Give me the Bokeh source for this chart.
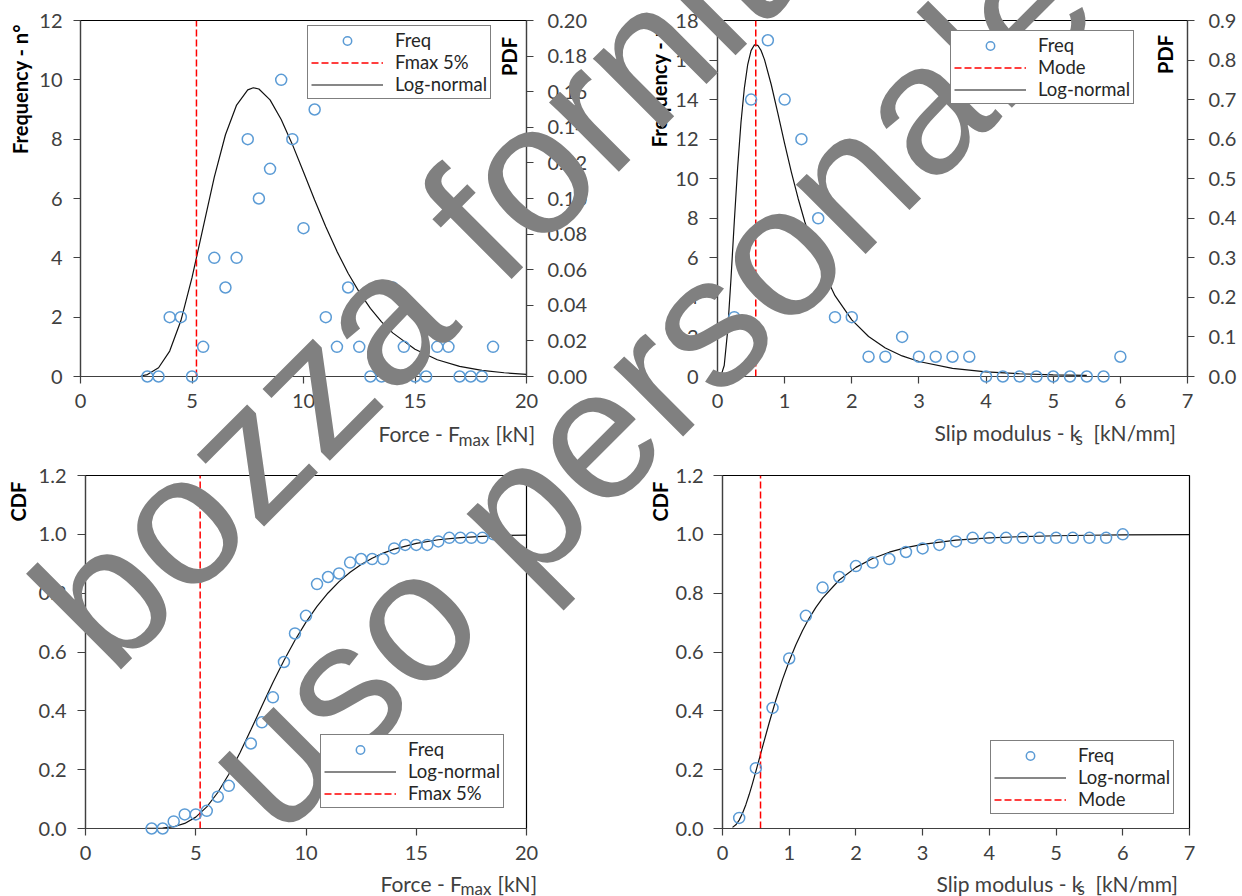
from math import pi, sin, cos
from bokeh.plotting import figure
from bokeh.models import (Range1d, LinearAxis, Legend, LegendItem,
                          FixedTicker, PrintfTickFormatter)
from bokeh.core.properties import value
from bokeh.layouts import row, column
from bokeh.embed import file_html
from bokeh.resources import INLINE

# ---------------- data ----------------
# Force Fmax [kN]: class centres, observed frequency, empirical CDF
fmax_bins = [3.0, 3.5, 4.0, 4.5, 5.0, 5.5, 6.0, 6.5, 7.0, 7.5, 8.0, 8.5, 9.0, 9.5,
             10.0, 10.5, 11.0, 11.5, 12.0, 12.5, 13.0, 13.5, 14.0, 14.5, 15.0,
             15.5, 16.0, 16.5, 17.0, 17.5, 18.0, 18.5]
fmax_freq = [0, 0, 2, 2, 0, 1, 4, 3, 4, 8, 6, 7, 10, 8, 5, 9, 2, 1, 3, 1, 0, 0,
             3, 1, 0, 0, 1, 1, 0, 0, 0, 1]
fmax_cdf = [0.0, 0.0, 0.024, 0.048, 0.048, 0.060, 0.108, 0.145, 0.193, 0.289,
            0.361, 0.446, 0.566, 0.663, 0.723, 0.831, 0.855, 0.867, 0.904, 0.916,
            0.916, 0.916, 0.952, 0.964, 0.964, 0.964, 0.976, 0.988, 0.988, 0.988,
            0.988, 1.0]
# log-normal fit
fmax_fit_x = [2.7, 3.0, 3.5, 4.0, 4.5, 5.0, 5.5, 6.0, 6.5, 7.0, 7.5, 7.75, 8.0,
              8.5, 9.0, 9.5, 10.0, 10.5, 11.0, 11.5, 12.0, 12.5, 13.0, 13.5,
              14.0, 15.0, 16.0, 17.0, 18.0, 19.0, 20.0]
fmax_fit_pdf = [0.0003, 0.0011, 0.0049, 0.0143, 0.0313, 0.0555, 0.0838, 0.1120,
                0.1358, 0.1525, 0.1610, 0.1622, 0.1615, 0.1554, 0.1444, 0.1304,
                0.1149, 0.0992, 0.0841, 0.0703, 0.0580, 0.0474, 0.0383, 0.0307,
                0.0245, 0.0153, 0.0094, 0.0057, 0.0034, 0.0021, 0.0012]
fmax_fit_cdf = [0.0001, 0.0003, 0.0016, 0.0061, 0.0172, 0.0386, 0.0734, 0.1224,
                0.1846, 0.2569, 0.3357, 0.3760, 0.4166, 0.4962, 0.5712, 0.6401,
                0.7014, 0.7549, 0.8007, 0.8392, 0.8712, 0.8974, 0.9188, 0.9360,
                0.9498, 0.9693, 0.9815, 0.9888, 0.9933, 0.9960, 0.9976]
fmax_5pct = 5.2

# Slip modulus ks [kN/mm]
ks_bins = [0.25, 0.5, 0.75, 1.0, 1.25, 1.5, 1.75, 2.0, 2.25, 2.5, 2.75, 3.0,
           3.25, 3.5, 3.75, 4.0, 4.25, 4.5, 4.75, 5.0, 5.25, 5.5, 5.75, 6.0]
ks_freq = [3, 14, 17, 14, 12, 8, 3, 3, 1, 1, 2, 1, 1, 1, 1, 0, 0, 0, 0, 0, 0, 0, 0, 1]
ks_cdf = [0.036, 0.205, 0.410, 0.578, 0.723, 0.819, 0.855, 0.892, 0.904, 0.916,
          0.940, 0.952, 0.964, 0.976, 0.988, 0.988, 0.988, 0.988, 0.988, 0.988,
          0.988, 0.988, 0.988, 1.0]
ks_pdf_x = [0.03, 0.05, 0.1, 0.15, 0.2, 0.25, 0.3, 0.35, 0.4, 0.45, 0.5, 0.55, 0.6,
            0.65, 0.7, 0.8, 0.9, 1.0, 1.1, 1.2, 1.3, 1.4, 1.5, 1.75, 2.0, 2.25,
            2.5, 2.75, 3.0, 3.5, 4.0, 4.5, 5.0, 5.5]
ks_fit_pdf = [0.0, 0.0011, 0.0279, 0.1133, 0.2447, 0.3914, 0.5283, 0.6427, 0.7292,
              0.7887, 0.8238, 0.8386, 0.8373, 0.8237, 0.8010, 0.7382, 0.6645,
              0.5889, 0.5169, 0.4507, 0.3913, 0.3391, 0.2933, 0.2043, 0.1430,
              0.1010, 0.0721, 0.0520, 0.0379, 0.0207, 0.0118, 0.0069, 0.0042, 0.0026]
ks_cdf_x = [0.15, 0.2, 0.25, 0.3, 0.35, 0.4, 0.45, 0.5, 0.6, 0.7, 0.8, 0.9, 1.0,
            1.1, 1.2, 1.3, 1.4, 1.5, 1.75, 2.0, 2.25, 2.5, 2.75, 3.0, 3.5, 4.0,
            4.5, 5.0, 5.5, 6.0, 7.0]
ks_fit_cdf = [0.0038, 0.0126, 0.0285, 0.0516, 0.0810, 0.1154, 0.1535, 0.1939,
              0.2775, 0.3596, 0.4368, 0.5069, 0.5696, 0.6249, 0.6732, 0.7153,
              0.7517, 0.7834, 0.8448, 0.8877, 0.9179, 0.9393, 0.9547, 0.9658,
              0.9800, 0.9879, 0.9925, 0.9952, 0.9968, 0.9979, 0.9990]
ks_mode = 0.57

# tick labels
fmax_xticks = [0, 5, 10, 15, 20]
ks_xticks = [0, 1, 2, 3, 4, 5, 6, 7]
fmax_freq_ticks = [0, 2, 4, 6, 8, 10, 12]
ks_freq_ticks = [0, 2, 4, 6, 8, 10, 12, 14, 16, 18]
fmax_pdf_ticks = [0.00, 0.02, 0.04, 0.06, 0.08, 0.10, 0.12, 0.14, 0.16, 0.18, 0.20]
ks_pdf_ticks = [0.0, 0.1, 0.2, 0.3, 0.4, 0.5, 0.6, 0.7, 0.8, 0.9]
cdf_ticks = [0.0, 0.2, 0.4, 0.6, 0.8, 1.0, 1.2]

# ---------------- styling ----------------
W, H = 621, 448
FONT = "Lato"
WM_FONT = "Liberation Sans"
GREY = "#404040"
BLUE = "#5B9BD5"
RED = "#FF0000"
WM_COLOR = "#808080"
# bokeh draws 'alphabetic' text glyphs this many em below their anchor
BASELINE_FIX = {FONT: 0.4, WM_FONT: 0.3125}


class Panel:
    def __init__(self, origin, borders, xr, yr):
        l, r, t, b = borders
        self.p = figure(width=W, height=H, x_range=Range1d(*xr), y_range=Range1d(*yr),
                        output_backend="svg", toolbar_location=None,
                        min_border_left=l, min_border_right=r,
                        min_border_top=t, min_border_bottom=b)
        p = self.p
        p.xgrid.visible = False
        p.ygrid.visible = False
        p.outline_line_color = "#000000"
        p.outline_line_width = 1.2
        p.background_fill_color = "white"
        p.border_fill_color = "white"
        self.fl = origin[0] + l            # frame left (window px)
        self.fb = origin[1] + H - b        # frame bottom (window px)
        self.fw = W - l - r
        self.fh = H - t - b
        self.xr = xr
        self.yr = yr

    def to_data(self, X, Y):
        x0, x1 = self.xr
        y0, y1 = self.yr
        return (x0 + (X - self.fl) / self.fw * (x1 - x0),
                y0 + (self.fb - Y) / self.fh * (y1 - y0))

    def text(self, X, Y, t, size, color=GREY, font=FONT, style="normal",
             angle=0.0, align="left"):
        px = float(size.replace("px", ""))
        d = BASELINE_FIX[font] * px
        X -= d * sin(angle)
        Y -= d * cos(angle)
        xd, yd = self.to_data(X, Y)
        self.p.text(x=[xd], y=[yd], text=[t], angle=angle,
                    text_font=value(font), text_font_size=value(size),
                    text_font_style=style, text_color=color,
                    text_align=align, text_baseline="alphabetic",
                    level="overlay")


def style_axis(ax, ticks, fmt, tick_out, standoff):
    ax.ticker = FixedTicker(ticks=ticks)
    ax.formatter = PrintfTickFormatter(format=fmt)
    ax.axis_line_color = GREY
    ax.axis_line_width = 1.2
    ax.major_tick_line_color = GREY
    ax.major_tick_line_width = 1.2
    ax.major_tick_out = tick_out
    ax.major_tick_in = 0
    ax.minor_tick_line_color = None
    ax.major_label_text_font = FONT
    ax.major_label_text_font_size = "20px"
    ax.major_label_text_color = GREY
    ax.major_label_standoff = standoff
    ax.axis_label = None


def add_xlabel(P, X1, Xs, X2, Y, main, sub, tail, sub_dy):
    P.text(X1, Y, main, "21px")
    P.text(Xs, Y + sub_dy, sub, "17px")
    P.text(X2, Y, tail, "21px")


def add_vtitle(P, X, Yc, t):
    P.text(X, Yc, t, "20px", color="#000000", style="bold", angle=pi / 2, align="center")


def add_legend(P, left, top, items):
    leg = Legend(items=[LegendItem(label=t, renderers=[r]) for t, r in items])
    leg_h = 71
    leg.location = (left - P.fl, P.fb - (top + leg_h))
    leg.margin = 0
    leg.padding = 3
    leg.spacing = 0
    leg.glyph_width = 72
    leg.glyph_height = 21
    leg.label_height = 21
    leg.label_standoff = 12
    leg.label_text_font = FONT
    leg.label_text_font_size = "18.5px"
    leg.label_text_color = "#262626"
    leg.border_line_color = "#000000"
    leg.border_line_width = 1.2
    leg.background_fill_color = "white"
    leg.background_fill_alpha = 1.0
    P.p.add_layout(leg)


def add_watermark(P):
    for X, Y, t in [(107.5, 673, "bozza fornita"), (274, 835.5, "uso personale")]:
        P.text(X, Y, t, "186px", color=WM_COLOR, font=WM_FONT, angle=pi / 4)


def scatter(p, x, y, **kw):
    return p.scatter(x, y, marker="circle", size=11, fill_color=None,
                     line_color=BLUE, line_width=1.5, level="overlay", **kw)


# ---------------- top-left: Fmax frequency / PDF ----------------
P1 = Panel((0, 0), (80, 95, 20, 72), (0, 20), (0, 12))
p1 = P1.p
p1.extra_y_ranges = {"pdf": Range1d(0, 0.2)}
style_axis(p1.xaxis[0], fmax_xticks, "%d", 7, 10)
style_axis(p1.yaxis[0], fmax_freq_ticks, "%d", 7, 11)
ax = LinearAxis(y_range_name="pdf")
style_axis(ax, fmax_pdf_ticks, "%.2f", 7, 14)
p1.add_layout(ax, "right")
r_fit = p1.line(fmax_fit_x, fmax_fit_pdf, y_range_name="pdf", line_color="#111111", line_width=1.2)
r_red = p1.line([fmax_5pct, fmax_5pct], [0, 12], line_color=RED, line_width=1.5, line_dash="7 3")
r_sc = scatter(p1, fmax_bins, fmax_freq)
add_legend(P1, 307, 28, [("Freq", r_sc), ("Fmax 5%", r_red), ("Log-normal", r_fit)])
add_vtitle(P1, 27.5, 88.5, "Frequency - n°")
add_vtitle(P1, 516.7, 56, "PDF")
add_xlabel(P1, 378, 458, 495, 441, "Force - F", "max", "[kN]", 5)
add_watermark(P1)

# ---------------- top-right: ks frequency / PDF ----------------
P2 = Panel((621, 0), (96, 55, 20, 72), (0, 7), (0, 18))
p2 = P2.p
p2.extra_y_ranges = {"pdf": Range1d(0, 0.9)}
style_axis(p2.xaxis[0], ks_xticks, "%d", 7, 10)
style_axis(p2.yaxis[0], ks_freq_ticks, "%d", 8, 11)
ax = LinearAxis(y_range_name="pdf")
style_axis(ax, ks_pdf_ticks, "%.1f", 7, 14)
p2.add_layout(ax, "right")
r_fit = p2.line(ks_pdf_x, ks_fit_pdf, y_range_name="pdf", line_color="#111111", line_width=1.2)
r_red = p2.line([ks_mode, ks_mode], [0, 18], line_color=RED, line_width=1.5, line_dash="7 3")
r_sc = scatter(p2, ks_bins, ks_freq)
add_legend(P2, 950, 33, [("Freq", r_sc), ("Mode", r_red), ("Log-normal", r_fit)])
add_vtitle(P2, 666.7, 81.7, "Frequency - n°")
add_vtitle(P2, 1172.7, 54, "PDF")
add_xlabel(P2, 934, 1075, 1093, 440, "Slip modulus - k", "s", "[kN/mm]", 5)
add_watermark(P2)

# ---------------- bottom-left: Fmax CDF ----------------
P3 = Panel((0, 448), (85, 95, 27, 68), (0, 20), (0, 1.2))
p3 = P3.p
style_axis(p3.xaxis[0], fmax_xticks, "%d", 7, 10)
style_axis(p3.yaxis[0], cdf_ticks, "%.1f", 8, 11)
r_fit = p3.line(fmax_fit_x, fmax_fit_cdf, line_color="#111111", line_width=1.2)
r_red = p3.line([fmax_5pct, fmax_5pct], [0, 1.2], line_color=RED, line_width=1.5, line_dash="7 3")
r_sc = scatter(p3, fmax_bins, fmax_cdf)
add_legend(P3, 320, 737, [("Freq", r_sc), ("Log-normal", r_fit), ("Fmax 5%", r_red)])
add_vtitle(P3, 25, 501, "CDF")
add_xlabel(P3, 380, 460, 497, 891, "Force - F", "max", "[kN]", 4)
add_watermark(P3)

# ---------------- bottom-right: ks CDF ----------------
P4 = Panel((621, 448), (101, 53, 27, 68), (0, 7), (0, 1.2))
p4 = P4.p
style_axis(p4.xaxis[0], ks_xticks, "%d", 7, 10)
style_axis(p4.yaxis[0], cdf_ticks, "%.1f", 9, 10)
r_fit = p4.line(ks_cdf_x, ks_fit_cdf, line_color="#111111", line_width=1.2)
r_red = p4.line([ks_mode, ks_mode], [0, 1.2], line_color=RED, line_width=1.5, line_dash="7 3")
r_sc = scatter(p4, ks_bins, ks_cdf)
add_legend(P4, 990, 743, [("Freq", r_sc), ("Log-normal", r_fit), ("Mode", r_red)])
add_vtitle(P4, 667.6, 501, "CDF")
add_xlabel(P4, 936, 1077, 1095, 891, "Slip modulus - k", "s", "[kN/mm]", 4)
add_watermark(P4)

layout = column(row(p1, p2), row(p3, p4))
open("out.html", "w").write(file_html(layout, INLINE))
